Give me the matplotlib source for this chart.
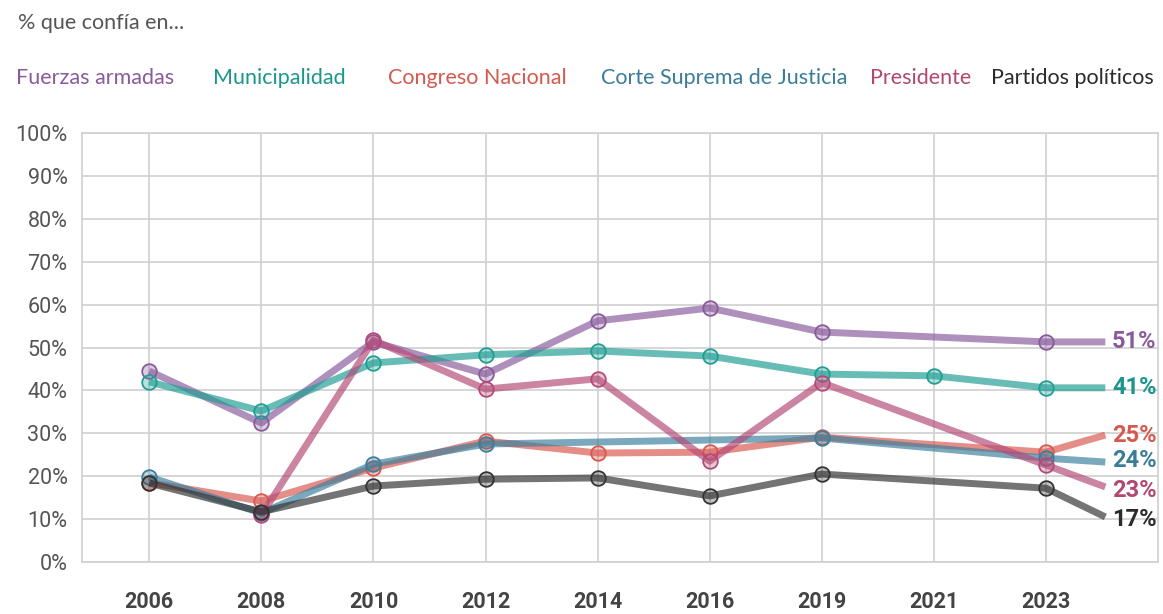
import numpy as np
import matplotlib
matplotlib.use("Agg")
import matplotlib.pyplot as plt

years = ["2006", "2008", "2010", "2012", "2014", "2016", "2019", "2021", "2023"]
nan = np.nan
series_names = ["Fuerzas armadas", "Municipalidad", "Congreso Nacional",
                "Corte Suprema de Justicia", "Presidente", "Partidos políticos"]
fuerzas = [44.5, 32.4, 51.3, 43.8, 56.2, 59.2, 53.6, nan, 51.3]
municipalidad = [42.0, 35.2, 46.4, 48.3, 49.2, 48.0, 43.8, 43.4, 40.6]
congreso = [18.5, 14.2, 21.9, 28.2, 25.4, 25.6, 29.1, nan, 25.6]
corte = [19.8, 11.4, 22.8, 27.5, nan, nan, 28.9, nan, 24.2]
presidente = [nan, 10.9, 51.7, 40.3, 42.7, 23.5, 41.8, nan, 22.6]
partidos = [18.4, 11.7, 17.7, 19.3, 19.6, 15.4, 20.5, nan, 17.2]
# final (latest) value drawn past the last category, and its label
end_values = [51.3, 40.6, 29.6, 23.3, 17.5, 10.5]
end_labels = ["51%", "41%", "25%", "24%", "23%", "17%"]
label_y = [51.3, 40.6, 29.6, 23.6, 16.7, 10.0]

colors = ["#8a5a9c", "#1f9e94", "#d9574f", "#3b7f9c", "#b54a78", "#333333"]
text_colors = ["#8a5a9c", "#1a968c", "#d35a4f", "#3a7d99", "#b0486f", "#2b2b2b"]
all_series = [fuerzas, municipalidad, congreso, corte, presidente, partidos]

fig = plt.figure(figsize=(11.63, 6.14), dpi=100)
ax = fig.add_axes([82/1163, 1-562/614, (1158-82)/1163, (562-133)/614])

x = np.arange(len(years))
end_x = len(years) - 1 + 0.53
for i, vals in enumerate(all_series):
    v = np.array(vals, dtype=float)
    m = ~np.isnan(v)
    xs = np.append(x[m], end_x)
    ys = np.append(v[m], end_values[i])
    ax.plot(xs, ys, color=colors[i], lw=5, alpha=0.68, solid_capstyle="butt",
            zorder=3 + i)
    ax.plot(x[m], v[m], ls="none", marker="o", ms=10.5,
            mfc=matplotlib.colors.to_rgba(colors[i], 0.3),
            mec=colors[i], mew=1.3, zorder=3 + i)
    ax.text(end_x + 0.06, label_y[i], end_labels[i], color=text_colors[i],
            fontsize=17, fontweight="bold", va="center", ha="left",
            family="Roboto", zorder=20)

ax.set_xlim(-0.6, 9.0)
ax.set_ylim(0, 100)
ax.set_yticks(np.arange(0, 101, 10))
ax.set_yticklabels([f"{t}%" for t in range(0, 101, 10)])
ax.set_xticks(x)
ax.set_xticklabels(years)
ax.grid(True, color="#d0d0d0", lw=1.2, zorder=0)
for s in ax.spines.values():
    s.set_color("#d0d0d0")
    s.set_linewidth(1.2)
ax.tick_params(length=0)
ax.tick_params(axis="y", labelsize=15.5, labelcolor="#555555", pad=10.5)
ax.tick_params(axis="x", labelsize=15.5, labelcolor="#444444", pad=21)
for lab in ax.get_yticklabels():
    lab.set_family("Roboto")
for lab in ax.get_xticklabels():
    lab.set_family("Roboto")
    lab.set_fontweight("bold")

fig.text(18/1163, 1-23/614, "% que confía en...", fontsize=15.5, color="#555555",
         va="center", ha="left", family="Lato")
legend_x = [16, 213, 388, 601, 870, 991]
for i, name in enumerate(series_names):
    fig.text(legend_x[i]/1163, 1-78/614, name, fontsize=15.5, color=text_colors[i],
             va="center", ha="left", family="Lato")

fig.savefig("out.png", dpi=100)
